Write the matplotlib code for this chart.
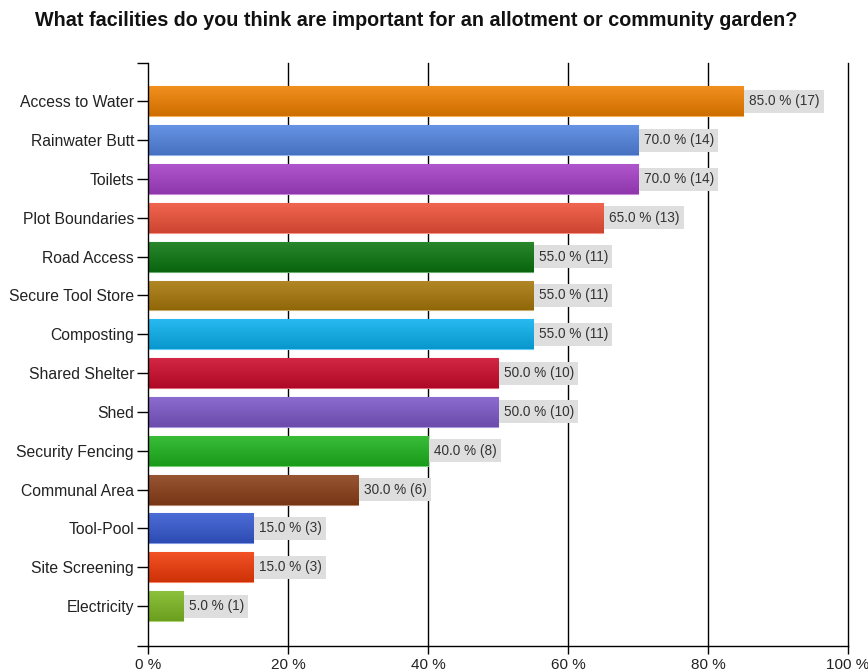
import matplotlib.pyplot as plt
import matplotlib.colors as mcolors
import numpy as np

plt.rcParams['font.family'] = ['Liberation Sans', 'DejaVu Sans']

facilities = ["Access to Water", "Rainwater Butt", "Toilets", "Plot Boundaries",
              "Road Access", "Secure Tool Store", "Composting", "Shared Shelter",
              "Shed", "Security Fencing", "Communal Area", "Tool-Pool",
              "Site Screening", "Electricity"]
percent = [85.0, 70.0, 70.0, 65.0, 55.0, 55.0, 55.0, 50.0, 50.0, 40.0, 30.0, 15.0, 15.0, 5.0]
counts = [17, 14, 14, 13, 11, 11, 11, 10, 10, 8, 6, 3, 3, 1]
colours = ["#f08000", "#5284e0", "#a53fc6", "#ee5038", "#0c7610", "#a8780a",
           "#0ab0ee", "#cc0a2c", "#7c58c8", "#1eb41e", "#8a3e18", "#3458d0",
           "#f03a08", "#7cb822"]
xticks = [0, 20, 40, 60, 80, 100]

fig = plt.figure(figsize=(8.68, 6.72), dpi=100)
ax = fig.add_axes([0.1705, 0.0387, 0.8065, 0.867])

y = np.arange(len(facilities))
bars = ax.barh(y, percent, height=0.77, color=colours, zorder=2,
               edgecolor="none")

# vertical shading on each bar, lighter at the top
grad = np.linspace(0, 1, 64).reshape(-1, 1)
for bar, col in zip(bars, colours):
    base = np.array(mcolors.to_rgb(col))
    top = base + (1 - base) * 0.12
    bot = base * 0.86
    img = top[None, None, :] * (1 - grad[:, :, None]) + bot[None, None, :] * grad[:, :, None]
    x0, y0 = bar.get_x(), bar.get_y()
    w, h = bar.get_width(), bar.get_height()
    im = ax.imshow(img, extent=(x0, x0 + w, y0 + h, y0), aspect="auto",
                   zorder=2.1, interpolation="bilinear")
    im.set_clip_path(bar)
    bar.set_edgecolor(tuple(top + (1 - top) * 0.3))
    bar.set_linewidth(0.8)

for yi, p, c in zip(y, percent, counts):
    ax.annotate(f"{p:.1f} % ({c})", xy=(p, yi), xytext=(4, 0),
                textcoords="offset points", ha="left", va="center",
                fontsize=9.8, color="#333333", zorder=3,
                bbox=dict(boxstyle="square,pad=0.33", fc="#dedede", ec="none"))

ax.set_xlim(0, 100)
ax.set_ylim(14.03, -0.98)
ax.set_xticks(xticks)
ax.set_xticklabels([f"{t} %" for t in xticks], fontsize=11, color="#222222")
ax.set_yticks(y)
ax.set_yticklabels(facilities, fontsize=11.3, color="#222222")
ax.set_yticks([-0.98, 14.03], minor=True)
ax.tick_params(axis="y", which="both", length=8, width=1, pad=2)
ax.tick_params(axis="x", length=6, width=1, pad=3)

for t in xticks[1:]:
    ax.axvline(t, color="black", linewidth=1, zorder=1, clip_on=False)

for side in ["top", "right"]:
    ax.spines[side].set_visible(False)
ax.spines["left"].set_linewidth(1)
ax.spines["bottom"].set_linewidth(1)
ax.spines["left"].set_zorder(4)

fig.text(0.48, 0.970, "What facilities do you think are important for an allotment or community garden?",
         ha="center", va="center", fontsize=14.2, fontweight="bold", color="#111111")

fig.savefig("out.png", dpi=100)
